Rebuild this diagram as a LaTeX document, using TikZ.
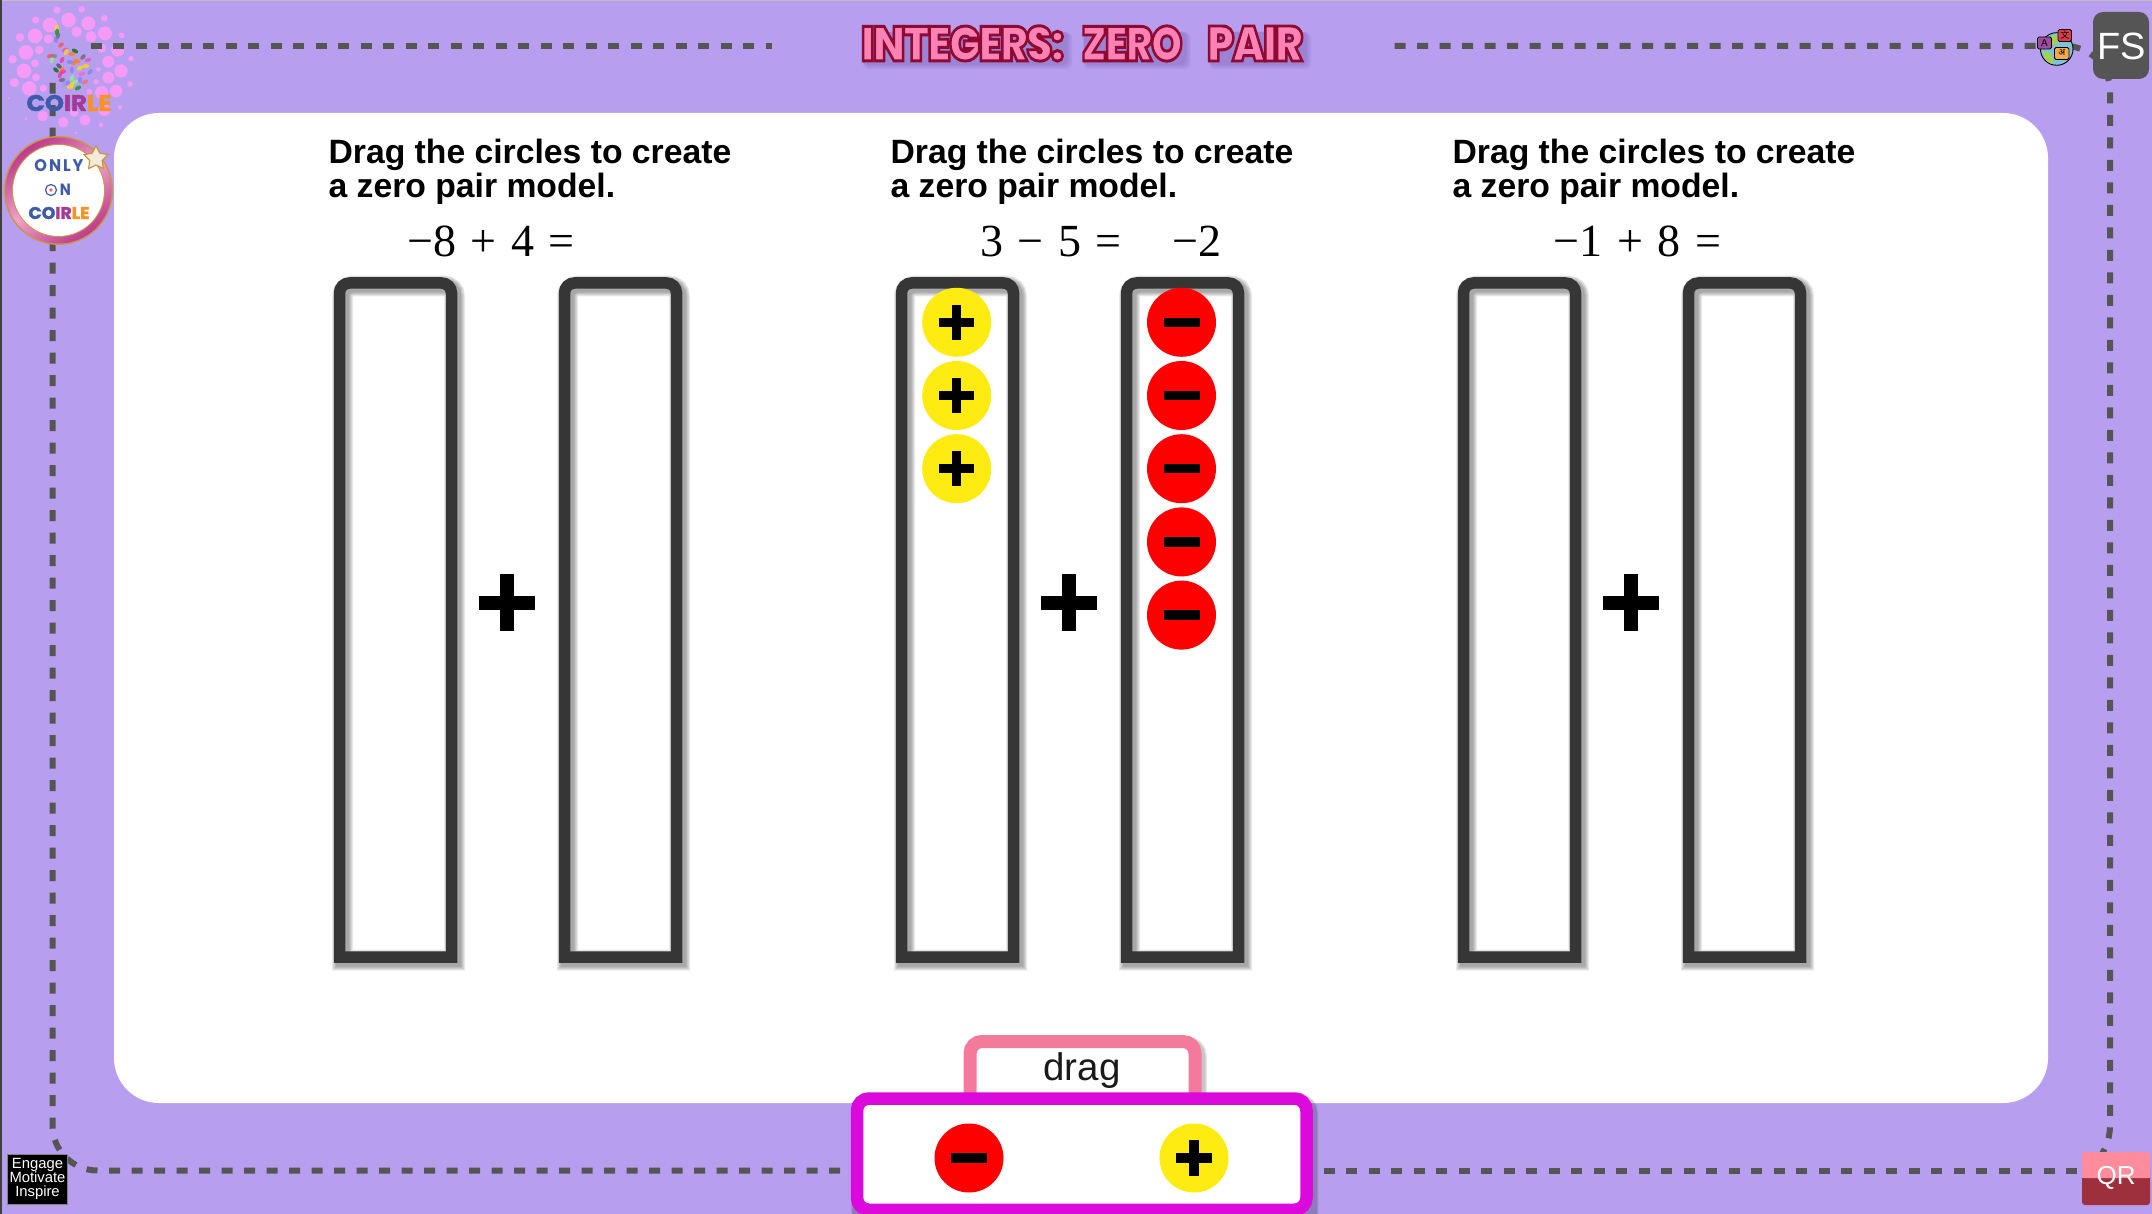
\documentclass[tikz,border=0pt]{standalone}
\usepackage{fontspec}
\usepackage{xcolor}
\setmainfont{Liberation Sans}
\newfontfamily\eqfont{Liberation Serif}
\newfontfamily\heavyfont{Poppins}
\newfontfamily\logofont{Poppins}[BoldFeatures={FakeBold=2}]
\newfontfamily\titlefont{Poppins Black}[FakeBold=6,LetterSpace=-4]
\newfontfamily\cjkfont{Noto Sans CJK SC}
\newfontfamily\devfont[Script=Devanagari]{Noto Sans}
\usetikzlibrary{shapes,positioning,calc}

\definecolor{backlilac}{HTML}{B89EEE}
\definecolor{dashgray}{HTML}{555555}
\definecolor{tubegray}{HTML}{363636}
\definecolor{bubblepink}{HTML}{F59AF6}
\definecolor{discred}{HTML}{FF0000}
\definecolor{discyellow}{HTML}{FEEB12}
\definecolor{dragpink}{HTML}{F47A9C}
\definecolor{traymagenta}{HTML}{DC09DC}
\definecolor{titlepink}{HTML}{FA82B4}
\definecolor{titleshadow}{HTML}{5A4590}
\definecolor{coirblue}{HTML}{3E5BAA}
\definecolor{coirpurple}{HTML}{A33A96}
\definecolor{coirorange}{HTML}{F7931E}
\definecolor{ringdark}{HTML}{BE3A8C}
\definecolor{ringlight}{HTML}{EFA2CC}
\definecolor{ringgold}{HTML}{C9973F}
\definecolor{glassrim}{HTML}{A8A498}
\definecolor{qrtop}{HTML}{FF8C9C}
\definecolor{qrbottom}{HTML}{9E2F3D}
\definecolor{globesea}{HTML}{7CC5D8}
\definecolor{globeland}{HTML}{A6D14E}
\definecolor{tagpurple}{HTML}{A04C9E}
\definecolor{tagred}{HTML}{DC3B4F}
\definecolor{tagorange}{HTML}{F9A94B}

\pgfdeclareradialshading{badgeglass}{\pgfpoint{0bp}{0bp}}{color(0bp)=(white); color(33bp)=(white); color(50bp)=(glassrim)}

\tikzset{
    dashline/.style={draw=dashgray,line width=6pt,dash pattern=on 11pt off 11.5pt},
    tubeline/.style={draw=tubegray,line width=11.5pt,miter limit=10},
    softshade/.style={black,opacity=0.08,line width=#1},
    headtext/.style={anchor=base west,inner sep=0pt,font=\fontsize{33.7}{34}\selectfont\bfseries},
    eqtext/.style={anchor=base,inner sep=0pt,font=\fontsize{46}{46}\selectfont\eqfont},
    plain/.style={inner sep=0pt}
}

\newcommand{\eqgap}{\hspace{14.5pt}}
\newcommand{\coirword}{\logofont\bfseries\textcolor{coirblue}{CO}\textcolor{coirpurple}{IR}\textcolor{coirorange}{LE}}
\newcommand{\titleword}[1]{\textcolor{titlepink}{\special{pdf:code 0.557 0.039 0.2 RG}\titlefont #1}}

\newcommand{\tubebox}[2]{
    \foreach \lw in {21,19,17,15,13}{
        \draw[softshade=\lw pt] (#1+3,960) [rounded corners=10pt] -- (#1+3,286) -- (#2+3,286) [sharp corners] -- (#2+3,960) -- cycle;
    }
    \draw[tubeline] (#1,957) [rounded corners=10pt] -- (#1,283) -- (#2,283) [sharp corners] -- (#2,957) -- cycle;
}
\newcommand{\plusdisc}[2]{
    \fill[discyellow] (#1,#2) circle[radius=34.5pt];
    \fill[black] (#1-17.7,#2-4.7) rectangle (#1+17.7,#2+4.7);
    \fill[black] (#1-4.7,#2-17.7) rectangle (#1+4.7,#2+17.7);
}
\newcommand{\minusdisc}[2]{
    \fill[discred] (#1,#2) circle[radius=34.5pt];
    \fill[black] (#1-18,#2-4.7) rectangle (#1+18,#2+4.7);
}

\begin{document}
\begin{tikzpicture}[x=1pt,y=-1pt]
    \path[use as bounding box,clip] (0,0) rectangle (2152,1214);
    \fill[backlilac] (0,0) rectangle (2152,1214);
    \fill[gray!50] (0,0) rectangle (2152,1.2);
    \fill[black!75] (0,0) rectangle (2,1214);
    \fill[white,rounded corners=45pt] (114,113) rectangle (2048,1103);

    \foreach \bx/\by/\br in {171/30/11,245/28/10,107/60/11,206/60/22,265/70/21,313/55/10,150/75/22,105/108/22,60/112/13,230/95/16,273/110/17,315/100/21,365/106/9,145/117/14,78/157/22,118/150/13,38/178/13,105/190/12,72/213/22,108/232/12,43/248/14,88/265/22,130/265/11,325/185/18,363/213/20,325/233/18,393/176/8,353/150/20,305/145/14,295/208/7,288/245/8,390/252/8,268/275/9,305/278/20,348/273/19,360/322/7,313/330/18,255/360/17,190/367/16,128/348/16,222/338/13,303/374/7,78/356/4,228/398/4,26/295/3}{
        \fill[bubblepink] (\bx/3,\by/3) circle[radius=\br/3*1pt];
    }

    \draw[dashline] (90.7,46) -- (772,46);
    \draw[dashline] (1394.5,46) [rounded corners=45pt] -- (2110,46) [sharp corners] -- (2110,1125) .. controls (2110,1140) and (2105,1150) .. (2098,1160);
    \draw[dashline] (2077,1170.5) -- (860,1170.5);
    \draw[dashline] (862.5,1170.5) [rounded corners=45pt] -- (52.5,1170.5) [sharp corners] -- (52.5,83);

    \foreach \hx/\hy/\ha/\hc in {57/28/90/yellow!80!orange,57/32/80/green!60!black,58/36/70/black!60,56/40/100/blue!50,61/45/40/red!70,65/50/30/magenta!70,75/51/-30/green!40!black,66/52/60/yellow!80!orange,72/54/10/orange,50/56/20/red!70,52/60/70/green!50,62/60/60/magenta!80,54/56/0/black!50,77/61/-20/orange,74/63/40/orange,83/57/50/black!60,88/60/20/magenta!70,70/62/0/blue!50,59/66/-40/black!70,56/70/-40/green!40!black,62/70/60/orange,63/72/20/magenta!80,72/70/90/blue!50,80/68/30/yellow!80!orange,86/66/0/yellow!80!orange,60/75/70/magenta!80,82/74/20/magenta!60,90/72/50/blue!50,62/80/10/black!60,72/78/70/green!50,75/82/30/green!50,80/80/90/blue!50,67/83/40/blue!50,85/82/30/red!60,70/87/0/yellow!80!orange,78/88/30/green!60!black,72/85/70/yellow!80!orange,64/84/50/blue!40}{
        \fill[\hc,opacity=0.75,rotate around={\ha:(\hx,\hy)}] (\hx,\hy) ellipse[x radius=3.4pt,y radius=2pt];
    }
    \node[plain] (logoword) at (69,103) {\resizebox{85pt}{16pt}{\coirword}};

    \fill[ringgold] (58.5,190.5) circle[radius=54.5pt];
    \shade[left color=ringdark,right color=ringdark,middle color=ringlight,shading angle=35] (58.5,190.5) circle[radius=53pt];
    \fill[ringgold] (58.5,190.5) circle[radius=46.5pt];
    \shade[shading=badgeglass] (58.5,190.5) circle[radius=45.5pt];
    \node[plain] (badgeonly) at (59,166) {\resizebox{49pt}{12pt}{\heavyfont\addfontfeature{LetterSpace=12}\bfseries\textcolor{coirblue}{ONLY}}};
    \draw[coirblue,fill=white,line width=1.2pt] (51,190) circle[radius=5.5pt];
    \fill[coirorange!70!magenta] (51,190) circle[radius=1.8pt];
    \node[plain] (badgeon) at (65.5,190) {\resizebox{11pt}{11.5pt}{\heavyfont\bfseries\textcolor{coirblue}{N}}};
    \node[plain] (badgeword) at (59,213) {\resizebox{61pt}{12pt}{\coirword}};
    \node[star,star points=5,star point ratio=1.9,draw=ringgold,fill=white!80!ringgold,line width=1.2pt,minimum size=25pt,inner sep=0pt] (badgestar) at (96,158.5) {};

    \foreach \wn/\word/\wx/\wordw in {1/INTEGERS:/962.5/203,2/ZERO/1132/101,3/PAIR/1255/96}{
        \foreach \sa in {5,3,1}{
            \fill[titleshadow,opacity=0.1,rounded corners=6pt] (\wx-0.5*\wordw+2,32) rectangle (\wx+0.5*\wordw+3+\sa,64+\sa);
        }
        \node[plain] (word\wn) at (\wx,43.5) {\resizebox{\wordw pt}{35pt}{\titleword{\word}}};
    }

    \draw[black,fill=globesea,line width=0.9pt] (2056.7,49) circle[radius=16.3pt];
    \fill[globeland] (2043,52) .. controls (2050,50) and (2056,58) .. (2052,64) .. controls (2046,62) and (2043,58) .. (2043,52);
    \fill[globeland] (2054,34) .. controls (2060,36) and (2060,44) .. (2054,46) .. controls (2050,42) and (2050,38) .. (2054,34);
    \draw[black,fill=tagpurple,line width=0.8pt,rounded corners=1.5pt] (2037.5,37) rectangle (2051.5,49);
    \node[plain,font=\fontsize{10}{10}\selectfont] (globeA) at (2044.5,43) {A};
    \draw[black,fill=tagred,line width=0.8pt,rounded corners=1.5pt] (2058,29.5) rectangle (2071.5,41.5);
    \node[plain,font=\fontsize{9}{9}\selectfont\cjkfont] (globecn) at (2064.8,35.5) {文};
    \draw[black,fill=tagorange,line width=0.8pt,rounded corners=1.5pt] (2054.5,47.5) rectangle (2069,59.5);
    \node[plain,font=\fontsize{9}{9}\selectfont\devfont] (globehi) at (2061.7,53) {अ};

    \fill[dashgray,rounded corners=10pt] (2093,12) rectangle (2149,79);
    \node[plain,white,font=\fontsize{38}{38}\selectfont] (fsmark) at (2121.5,46) {FS};

    \fill[qrbottom,rounded corners=3pt] (2082,1165) rectangle (2150,1205);
    \fill[qrtop,rounded corners=3pt] (2082,1152) rectangle (2150,1178);
    \fill[qrtop] (2082,1165) rectangle (2150,1178);
    \node[plain,white,font=\fontsize{26}{26}\selectfont] (qrmark) at (2116,1178) {QR};

    \draw[gray,fill=black,line width=0.7pt] (7.5,1154) rectangle (67.5,1204);
    \node[plain,white,anchor=base,font=\fontsize{14.8}{15}\selectfont] (engageA) at (37.5,1168) {Engage};
    \node[plain,white,anchor=base,font=\fontsize{14.8}{15}\selectfont] (engageB) at (37.5,1182) {Motivate};
    \node[plain,white,anchor=base,font=\fontsize{14.8}{15}\selectfont] (engageC) at (37.5,1196) {Inspire};

    \foreach \col/\xo/\eqx/\eqn in {1/-562/491/{\char"2212 8\eqgap+\eqgap 4\eqgap=},2/0/1051/{3\eqgap\char"2212\eqgap 5\eqgap=},3/562/1637.5/{\char"2212 1\eqgap+\eqgap 8\eqgap=}}{
        \begin{scope}[xshift=\xo pt]
            \node[headtext] (headA\col) at (890.4,163.2) {Drag the circles to create};
            \node[headtext] (headB\col) at (890.4,197.2) {a zero pair model.};
            \tubebox{901.5}{1013.5}
            \tubebox{1126.5}{1238.5}
            \fill[black] (1041,595.5) rectangle (1097.3,609.5);
            \fill[black] (1062,574.3) rectangle (1076,630.7);
        \end{scope}
        \node[eqtext] (sum\col) at (\eqx,257) {\eqn};
    }
    \node[eqtext] (answer) at (1197,257) {\char"2212 2};

    \foreach \row in {0,1,2}{
        \plusdisc{956.7}{322.3+73.2*\row}
    }
    \foreach \row in {0,1,2,3,4}{
        \minusdisc{1181.5}{322.3+73.2*\row}
    }

    \foreach \lw in {18,16,14.5}{
        \draw[softshade=\lw pt,rounded corners=12pt] (973,1110) -- (973,1044.5) -- (1198,1044.5) -- (1198,1110);
    }
    \draw[draw=dragpink,fill=white,line width=13pt,rounded corners=12pt] (970,1110) -- (970,1041.5) -- (1195,1041.5) -- (1195,1110);
    \node[anchor=base,inner sep=0pt,text=black!90,font=\fontsize{38.5}{38.5}\selectfont] (dragword) at (1082,1080) {drag};

    \foreach \lw in {18,16,14.5}{
        \draw[softshade=\lw pt,rounded corners=12pt] (860,1225) -- (860,1101.5) -- (1309.5,1101.5) -- (1309.5,1225);
    }
    \draw[draw=traymagenta,fill=white,line width=12.5pt,rounded corners=12pt] (857,1209.8) -- (857,1098.5) -- (1306.5,1098.5) -- (1306.5,1209.8) -- cycle;
    \minusdisc{969}{1158}
    \plusdisc{1194}{1158}
\end{tikzpicture}
\end{document}
